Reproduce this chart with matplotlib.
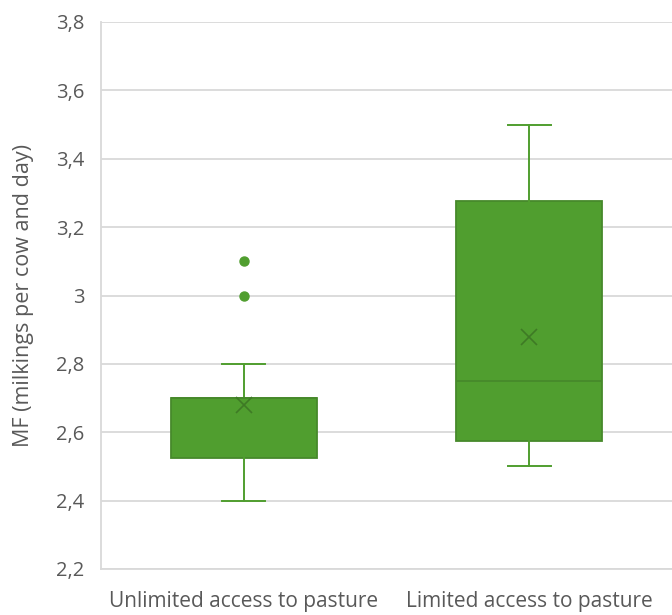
import matplotlib.pyplot as plt
from matplotlib.ticker import FuncFormatter

# five-number summaries (Excel box & whisker chart)
categories = ['Unlimited access to pasture', 'Limited access to pasture']
whislo = [2.4, 2.5]
q1 = [2.525, 2.575]
med = [2.7, 2.75]
q3 = [2.7, 3.275]
whishi = [2.8, 3.5]
means = [2.68, 2.88]
fliers = [[3.0, 3.1], []]

fill = '#509e2f'
edge = '#47892b'
dark = '#3e7a25'
txt = '#595959'

plt.rcParams['font.family'] = ['Open Sans', 'DejaVu Sans']

fig = plt.figure(figsize=(6.72, 6.15), dpi=100)
ax = fig.add_axes([101/672, 46/615, 571/672, 547/615])

stats = []
for i in range(len(categories)):
    stats.append(dict(label=categories[i], whislo=whislo[i], q1=q1[i], med=med[i],
                      q3=q3[i], whishi=whishi[i], mean=means[i], fliers=fliers[i]))

ax.bxp(stats, positions=[0, 1], widths=0.51, capwidths=0.15, patch_artist=True,
       showmeans=True, showfliers=True,
       boxprops=dict(facecolor=fill, edgecolor=edge, linewidth=1.3),
       medianprops=dict(color=edge, linewidth=1.3),
       whiskerprops=dict(color=fill, linewidth=1.4),
       capprops=dict(color=fill, linewidth=1.4),
       meanprops=dict(marker='x', markersize=12, markeredgecolor=dark, markeredgewidth=1.2),
       flierprops=dict(marker='o', markersize=6.5, markerfacecolor=fill, markeredgecolor=fill))

ax.set_xlim(-0.5, 1.5)
ax.set_ylim(2.2, 3.8)
ax.set_yticks([2.2 + 0.2*k for k in range(9)])
ax.yaxis.set_major_formatter(FuncFormatter(lambda v, p: ('%g' % round(v, 1)).replace('.', ',')))
ax.grid(axis='y', color='#d9d9d9', linewidth=1.3)
ax.set_axisbelow(True)
ax.tick_params(length=0, colors=txt)
ax.tick_params(axis='y', pad=12, labelsize=14.5)
ax.tick_params(axis='x', pad=16, labelsize=15)
for s in ['top', 'right']:
    ax.spines[s].set_visible(False)
for s in ['left', 'bottom']:
    ax.spines[s].set_color('#d9d9d9')
    ax.spines[s].set_linewidth(1.3)
ax.set_ylabel('MF (milkings per cow and day)', fontsize=15.5, color=txt)
ax.yaxis.set_label_coords(-0.117, 0.5)

fig.savefig('out.png', dpi=100)
